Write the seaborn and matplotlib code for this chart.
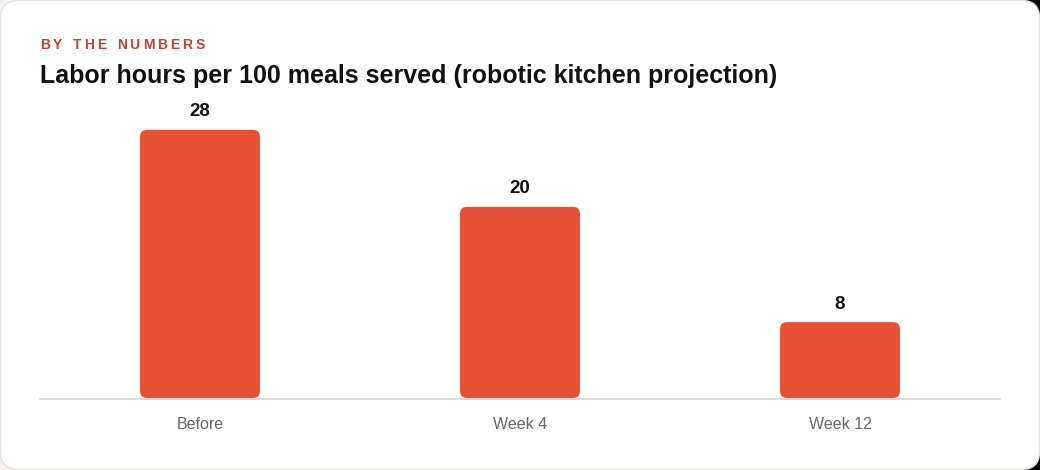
import matplotlib
matplotlib.use("Agg")
import matplotlib.pyplot as plt
import seaborn as sns
import pandas as pd
from matplotlib.patches import FancyBboxPatch, Rectangle

categories = ["Before", "Week 4", "Week 12"]
values = [28, 20, 8]
eyebrow = "BY THE NUMBERS"
title = "Labor hours per 100 meals served (robotic kitchen projection)"

sns.set_theme(style="white")
plt.rcParams["font.family"] = ["Liberation Sans", "DejaVu Sans"]

W, H = 1040, 470
fig = plt.figure(figsize=(W / 100, H / 100), dpi=100, facecolor="#f4f3f0")

# dark backdrop at the right edge (visible at right corners)
fig.patches.append(Rectangle((1000 / W, 0), 40 / W, 1, transform=fig.transFigure,
                             facecolor="black", edgecolor="none", zorder=-10))
# card background
card = FancyBboxPatch((0.5 / W, 0.5 / H), (W - 1) / W, (H - 1) / H,
                      boxstyle="round,pad=0,rounding_size=0.017",
                      transform=fig.transFigure, facecolor="white",
                      edgecolor="#e4e2de", linewidth=1.0, mutation_aspect=W / H,
                      zorder=-5)
fig.patches.append(card)

ax = fig.add_axes([40 / W, (H - 399) / H, 960 / W, (399 - 103) / H])
ax.set_facecolor("none")
ax.set_zorder(2)

df = pd.DataFrame({"cat": categories, "val": values})
sns.barplot(data=df, x="cat", y="val", ax=ax, color="#E85234",
            width=0.375, saturation=1, edgecolor="none")

ax.set_xlim(-0.5, 2.5)
ax.set_ylim(0, 30.8)

xpx = 960 / 3.0  # px per x unit
ypx = (399 - 103) / 30.8
bars = list(ax.patches)
for i, p in enumerate(bars):
    x, y = p.get_x(), p.get_y()
    w, h = p.get_width(), p.get_height()
    p.set_visible(False)
    r = 7 / xpx
    fb = FancyBboxPatch((x, y + 1.0 / ypx), w, h - 1.0 / ypx,
                        boxstyle=f"round,pad=0,rounding_size={r}",
                        mutation_aspect=xpx / ypx,
                        facecolor="#E85234", edgecolor="none", zorder=3)
    ax.add_patch(fb)
    ax.text(x + w / 2, y + h + 1.0, f"{values[i]}",
            ha="center", va="bottom", fontsize=13.5, fontweight="bold",
            color="#111111")

for s in ["top", "right", "left"]:
    ax.spines[s].set_visible(False)
ax.spines["bottom"].set_color("#d9d6d2")
ax.spines["bottom"].set_linewidth(1.2)
ax.spines["bottom"].set_zorder(4)
ax.set_yticks([])
ax.set_xlabel("")
ax.set_ylabel("")
ax.tick_params(axis="x", length=0, pad=13, labelsize=11.5, labelcolor="#666666")

# eyebrow with letter spacing
fig.canvas.draw()
renderer = fig.canvas.get_renderer()
xcur = 40
for ch in eyebrow:
    t = fig.text(xcur / W, 1 - 45 / H, ch, fontsize=10, fontweight="bold",
                 color="#C4432D", va="center", ha="left")
    if ch == " ":
        adv = 4.5
    else:
        bb = t.get_window_extent(renderer)
        adv = bb.width
    xcur += adv + 3.0

fig.text(40 / W, 1 - 76 / H, title, fontsize=18, fontweight="bold",
         color="#111111", va="center", ha="left")

fig.savefig("out.png", dpi=100, facecolor=fig.get_facecolor())
